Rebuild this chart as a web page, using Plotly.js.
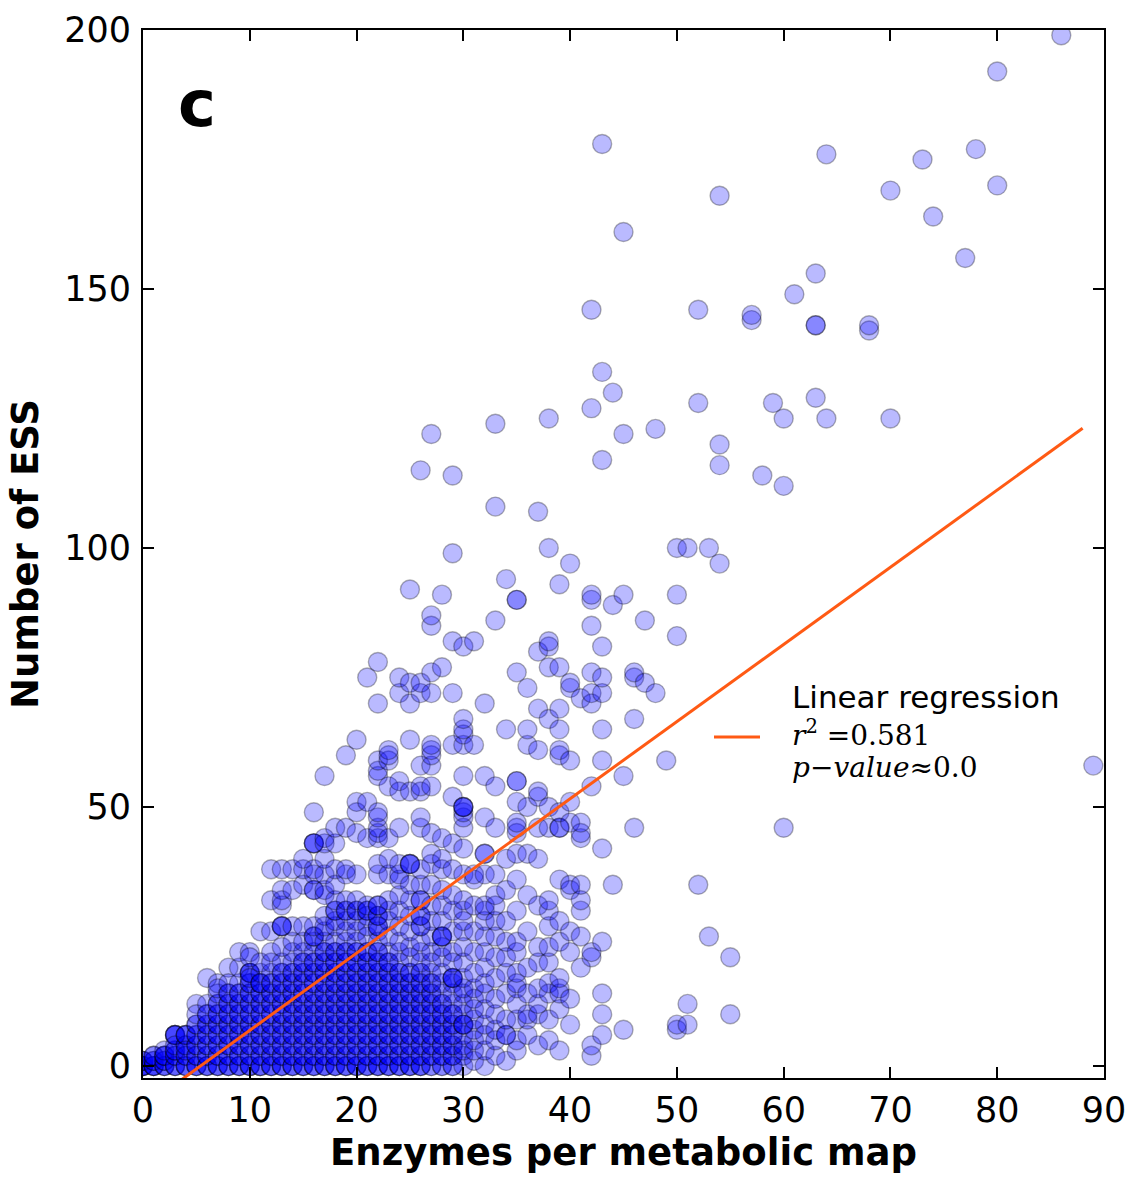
<!DOCTYPE html>
<html>
<head>
<meta charset="utf-8">
<script src="https://cdn.plot.ly/plotly-3.0.1.min.js"></script>
<style>html,body{margin:0;padding:0;background:#fff;}#chart{width:1130px;height:1179px;}</style>
</head>
<body>
<div id="chart"></div>
<script>
// Enzymes per metabolic map (x) and the ESS counts observed at each x (repeats = identical maps)
const enzymeCounts = [0,1,2,3,4,5,6,7,8,9,10,11,12,13,14,15,16,17,18,19,20,21,22,23,24,25,26,27,28,29,30,31,32,33,34,35,36,37,38,39,40,41,42,43,44,45,46,47,48,49,50,51,52,53,54,55,57,58,59,60,61,63,64,68,70,73,74,77,78,80,86,89];
const essValues = [
  [0,0,0,0,0,1,1,1],
  [0,0,0,0,1,1,2,2],
  [0,0,0,1,1,2,2,2,3],
  [0,0,0,2,2,3,3,6,6,6,6,4],
  [0,0,0,2,2,4,4,6,6,6,3],
  [0,0,0,2,2,4,4,6,6,8,8,12,10],
  [0,0,0,2,2,4,4,6,6,8,8,10,10,12,17],
  [0,0,0,2,2,4,4,6,6,8,8,10,10,12,12,14,16,15],
  [0,0,0,2,2,4,4,6,6,8,8,10,10,12,12,14,14,19,16],
  [0,0,0,2,2,4,4,6,6,8,8,10,10,12,12,14,14,16,19,22],
  [0,0,0,2,2,4,4,6,6,8,8,10,10,12,12,14,14,16,16,18,18,18,17,22,21],
  [0,0,0,2,2,4,4,6,6,8,8,10,10,12,12,14,14,16,16,16,18,20,26],
  [0,0,0,2,2,4,4,6,6,8,8,10,10,12,12,14,14,16,16,18,20,22,26,32,38],
  [0,0,0,2,2,4,4,6,6,8,8,10,10,12,12,14,14,16,16,18,18,20,23,27,27,27,31,32,34,38],
  [0,0,0,2,2,4,4,6,6,8,8,10,10,12,12,14,14,16,16,18,18,20,22,24,27,34,38],
  [0,0,0,2,2,4,4,6,6,8,8,10,10,12,12,14,14,16,16,18,18,20,20,22,24,27,35,38,40],
  [0,0,0,2,2,4,4,6,6,8,8,10,10,12,12,14,14,16,16,18,18,20,20,22,24,25,25,27,34,34,37,38,43,43,43,49],
  [0,0,0,2,2,4,4,6,6,8,8,10,10,12,12,14,14,16,16,18,18,20,20,22,22,24,26,27,29,33,34,37,40,43,44,56],
  [0,0,0,2,2,4,4,6,6,8,8,10,10,12,12,14,14,16,16,18,18,20,20,22,22,24,27,28,30,30,32,35,38,43,46],
  [0,0,0,2,2,4,4,6,6,8,8,10,10,12,12,14,14,16,16,18,18,20,20,22,22,24,26,28,30,30,32,37,38,46,60],
  [0,0,0,2,2,4,4,6,6,8,8,10,10,12,12,14,14,16,16,18,18,20,20,22,22,24,26,28,30,30,32,37,45,49,51,63],
  [0,0,0,2,2,4,4,6,6,8,8,10,10,12,12,14,14,16,16,18,18,20,20,22,22,25,27,29,30,30,31,44,51,75],
  [0,0,0,2,2,4,4,6,6,8,8,10,10,12,12,14,14,16,16,18,18,20,20,22,22,24,26,27,27,29,29,31,31,37,39,44,45,46,48,49,56,57,59,70,78],
  [0,0,0,2,2,4,4,6,6,8,8,10,10,12,12,14,14,16,16,18,18,20,20,22,25,28,30,32,37,40,44,54,59,60,61],
  [0,0,0,2,2,4,4,6,6,8,8,10,10,12,12,14,14,16,16,18,18,20,22,24,27,30,33,36,37,39,46,53,55,72,75],
  [0,0,0,2,2,4,4,6,6,8,8,10,10,12,12,14,14,16,16,18,18,21,23,26,29,32,35,39,39,39,53,63,70,74,92],
  [0,0,0,2,2,4,4,6,6,8,8,10,10,12,12,14,14,16,16,18,18,20,22,24,27,27,29,29,32,32,35,38,46,48,53,54,58,72,74,115],
  [0,0,2,2,4,4,6,6,8,8,10,10,12,12,14,14,16,16,18,20,22,25,28,31,35,39,41,45,54,58,60,61,62,72,76,85,87,122],
  [0,0,2,2,4,4,6,6,8,8,10,10,12,12,14,16,18,21,23,25,25,25,28,31,34,38,40,44,77,91],
  [0,0,2,2,4,4,6,6,8,8,10,10,12,14,16,17,17,17,20,22,26,30,33,38,43,52,62,72,82,99,114],
  [0,2,3,4,6,8,8,8,10,12,14,15,17,20,23,26,28,30,32,37,42,46,48,49,50,50,50,56,62,64,65,67,81],
  [1,3,5,7,9,11,13,15,18,22,26,31,36,37,62,82],
  [0,3,6,8,11,14,16,19,22,25,28,30,31,37,41,41,48,56,70],
  [2,5,7,10,13,17,21,25,28,31,33,37,46,54,86,108,124],
  [1,6,6,9,14,18,21,24,28,34,40,65,94],
  [3,5,9,12,15,16,18,22,24,30,36,41,45,46,47,51,55,55,76,90,90],
  [6,9,10,14,19,26,33,41,50,62,65,73],
  [4,10,12,15,20,23,31,40,46,52,53,61,69,80,107],
  [5,9,14,16,20,23,27,30,32,46,50,67,77,81,82,100,125],
  [3,11,14,15,17,24,28,36,46,46,49,60,61,65,69,77,93],
  [8,13,22,26,34,35,47,51,59,73,74,97],
  [19,25,30,32,35,44,45,47,71],
  [2,4,21,22,54,70,72,76,85,90,91,127,146],
  [6,10,14,24,42,59,65,72,75,81,117,134,178],
  [35,89,130],
  [7,56,91,122,161],
  [46,67,75,76],
  [74,86],
  [72,123],
  [59],
  [7,8,83,91,100],
  [8,12,100],
  [35,128,146],
  [25,100],
  [97,116,120,168],
  [10,21],
  [144,145],
  [114],
  [128],
  [46,112,125],
  [149],
  [129,143,143,153],
  [125,176],
  [142,143],
  [125,169],
  [175],
  [164],
  [156],
  [177],
  [170,192],
  [199],
  [58]
];
// Fitted regression (slope, intercept) and its reported statistics
const regSlope = 1.49;
const regIntercept = -8.0;
const regX = [0, 88];
const rSquared = "0.581";
const pValue = "0.0";
const xTicks = [0,10,20,30,40,50,60,70,80,90];
const yTicks = [0,50,100,150,200];

const px = [], py = [];
enzymeCounts.forEach((x, i) => essValues[i].forEach(y => { px.push(x); py.push(y); }));
const regY = regX.map(x => regSlope * x + regIntercept);

const font = "DejaVu Sans, Liberation Sans, sans-serif";
const traces = [
  {
    type: "scatter", mode: "markers", x: px, y: py, showlegend: false, hoverinfo: "skip",
    marker: { size: 19, color: "rgba(0,0,255,0.27)", line: { color: "rgba(0,0,0,0.3)", width: 1.4 } },
    cliponaxis: true
  },
  {
    type: "scatter", mode: "lines", x: regX, y: regY, showlegend: false, hoverinfo: "skip",
    line: { color: "#ff5a14", width: 3 }
  }
];

const L = 143, R = 26, T = 30, B = 101, W = 1130, H = 1179;
const pw = W - L - R, ph = H - T - B;
const fx = p => (p - L) / pw;
const fy = p => (H - B - p) / ph;

const layout = {
  width: W, height: H,
  margin: { l: L, r: R, t: T, b: B, pad: 0 },
  paper_bgcolor: "#fff", plot_bgcolor: "#fff",
  showlegend: false,
  xaxis: {
    range: [0, 90], tickvals: xTicks, ticktext: xTicks.map(String),
    ticks: "inside", ticklen: 11, tickwidth: 2, tickcolor: "#000",
    showline: true, linecolor: "#000", linewidth: 2, mirror: "ticks",
    showgrid: false, zeroline: false,
    tickfont: { family: font, size: 35, color: "#000" },
    title: { text: "<b>Enzymes per metabolic map</b>", font: { family: font, size: 37, color: "#000" }, standoff: 10 }
  },
  yaxis: {
    range: [-2.3, 200], tickvals: yTicks, ticktext: yTicks.map(String),
    ticks: "inside", ticklen: 11, tickwidth: 2, tickcolor: "#000",
    showline: true, linecolor: "#000", linewidth: 2, mirror: "ticks",
    showgrid: false, zeroline: false, ticklabelstandoff: 3,
    tickfont: { family: font, size: 35, color: "#000" },
    title: { text: "<b>Number of ESS</b>", font: { family: font, size: 37, color: "#000" }, standoff: 14 }
  },
  shapes: [
    { type: "line", xref: "paper", yref: "paper", x0: fx(714), x1: fx(760), y0: fy(737), y1: fy(737),
      line: { color: "#ff5a14", width: 3 } }
  ],
  annotations: [
    { xref: "paper", yref: "paper", x: fx(176), y: fy(104), xanchor: "left", yanchor: "middle",
      text: "<b>c</b>", showarrow: false, font: { family: font, size: 64, color: "#000" } },
    { xref: "paper", yref: "paper", x: fx(790), y: fy(697), xanchor: "left", yanchor: "middle",
      text: "Linear regression", showarrow: false, font: { family: font, size: 31, color: "#000" } },
    { xref: "paper", yref: "paper", x: fx(790), y: fy(733), xanchor: "left", yanchor: "middle",
      text: "<i>r</i><sup>2</sup> =" + rSquared, showarrow: false, font: { family: "DejaVu Serif, Liberation Serif, serif", size: 28, color: "#000" } },
    { xref: "paper", yref: "paper", x: fx(790), y: fy(768), xanchor: "left", yanchor: "middle",
      text: "<i>p</i>−<i>value</i>≈" + pValue, showarrow: false, font: { family: "DejaVu Serif, Liberation Serif, serif", size: 28, color: "#000" } }
  ]
};

Plotly.newPlot("chart", traces, layout, { staticPlot: true, displayModeBar: false });
</script>
</body>
</html>
